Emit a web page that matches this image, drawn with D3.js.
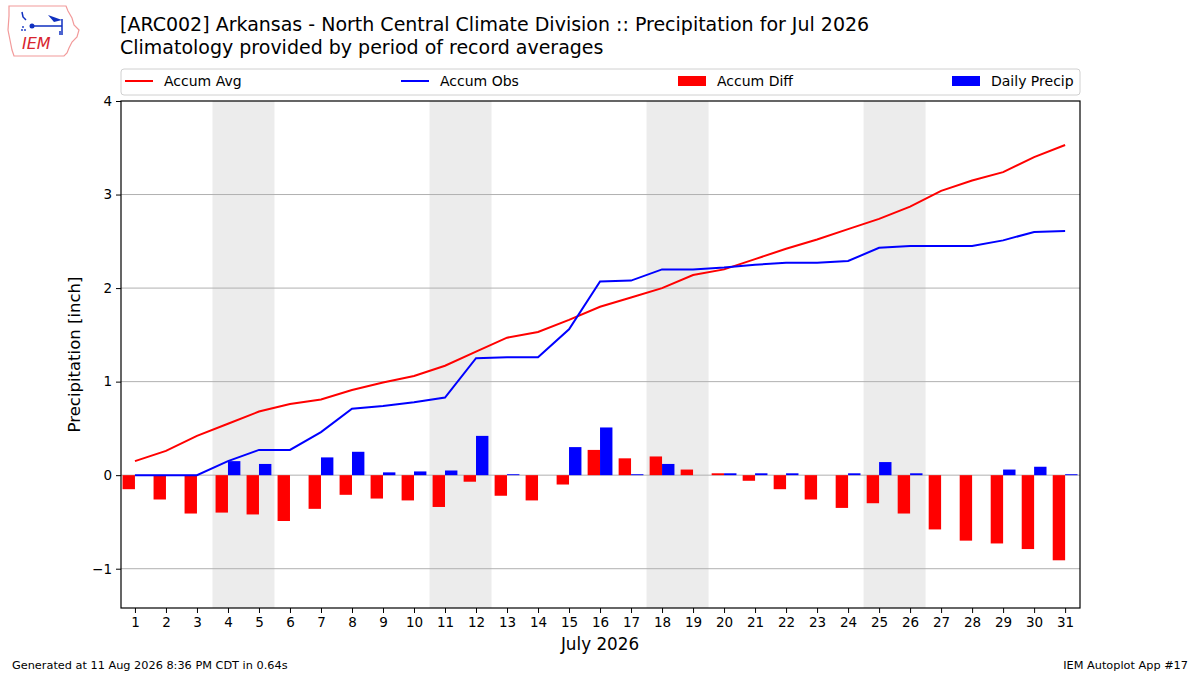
<!DOCTYPE html>
<html>
<head>
<meta charset="utf-8">
<script src="https://cdn.jsdelivr.net/npm/d3@7"></script>
<style>
  body { margin: 0; background: #fff; }
  text { font-family: "DejaVu Sans", sans-serif; fill: #000; }
</style>
</head>
<body>
<svg width="1200" height="675"></svg>
<script>
// days of July 2026
const days = d3.range(1, 32);
// accumulated climatology (period of record averages)
const accumAvg = [0.15, 0.26, 0.42, 0.55, 0.68, 0.76, 0.81, 0.91, 0.99, 1.06,
  1.17, 1.32, 1.47, 1.53, 1.66, 1.80, 1.90, 2.00, 2.14, 2.20,
  2.31, 2.42, 2.52, 2.63, 2.74, 2.87, 3.04, 3.15, 3.24, 3.40, 3.53];
// accumulated observed
const accumObs = [0, 0, 0, 0.15, 0.27, 0.27, 0.46, 0.71, 0.74, 0.78,
  0.83, 1.25, 1.26, 1.26, 1.56, 2.07, 2.08, 2.20, 2.20, 2.22,
  2.25, 2.27, 2.27, 2.29, 2.43, 2.45, 2.45, 2.45, 2.51, 2.60, 2.61];
// daily precip
const dailyPrecip = [0, 0, 0, 0.15, 0.12, 0, 0.19, 0.25, 0.03, 0.04,
  0.05, 0.42, 0.01, 0, 0.30, 0.51, 0.01, 0.12, 0, 0.02,
  0.02, 0.02, 0, 0.02, 0.14, 0.02, 0, 0, 0.06, 0.09, 0.01];
// accum obs minus accum avg
const accumDiff = [-0.15, -0.26, -0.41, -0.40, -0.42, -0.49, -0.36, -0.21, -0.25, -0.27,
  -0.34, -0.07, -0.22, -0.27, -0.10, 0.27, 0.18, 0.20, 0.06, 0.02,
  -0.06, -0.15, -0.26, -0.35, -0.30, -0.41, -0.58, -0.70, -0.73, -0.79, -0.91];
// weekends shaded
const weekends = [[4, 5], [11, 12], [18, 19], [25, 26]];
const yTicks = [-1, 0, 1, 2, 3, 4];

const svg = d3.select("svg");
const L = 121, R = 1080, T = 101, B = 608;

const x = d3.scaleLinear().domain([0.55, 31.48]).range([L, R]);
const y = d3.scaleLinear().domain([-1.42, 4.0]).range([B, T]);

// 标题
svg.append("text").attr("x", 120).attr("y", 31).attr("font-size", 19)
  .text("[ARC002] Arkansas - North Central Climate Division :: Precipitation for Jul 2026");
svg.append("text").attr("x", 120).attr("y", 54).attr("font-size", 19)
  .text("Climatology provided by period of record averages");

// logo
const logo = svg.append("g");
logo.append("path")
  .attr("d", "M9,6 L66,6 L68,11 L72,18 L74,25 L79,30 L77,37 L72,42 L69,48 L67,53 L64,56 L14,56 L12,50 L10,40 L8,30 L9,16 Z")
  .attr("fill", "none").attr("stroke", "#f29a9a").attr("stroke-width", 1.2);
logo.append("text").attr("x", 22).attr("y", 49).attr("font-family", "Liberation Serif, serif")
  .attr("font-style", "italic").attr("font-size", 16).style("fill", "#d8242e").text("IEM");
logo.append("path").attr("d", "M22,12 L23,17 L26,20 M32,26 L62,26 M62,19 L62,35 M60,31 L60,35")
  .attr("fill", "none").attr("stroke", "#1030c0").attr("stroke-width", 1.5);
logo.append("circle").attr("cx", 32).attr("cy", 26).attr("r", 2.5).attr("fill", "#1030c0");
logo.append("path").attr("d", "M48,15 L62,20 L54,22 Z").attr("fill", "#1030c0");
logo.append("g").selectAll("circle").data([[23, 27], [22, 30], [25, 30]]).join("circle")
  .attr("cx", d => d[0]).attr("cy", d => d[1]).attr("r", 0.9).attr("fill", "#1030c0");

// 周末阴影
svg.append("g").selectAll("rect").data(weekends).join("rect")
  .attr("x", d => x(d[0] - 0.5)).attr("width", d => x(d[1] + 0.5) - x(d[0] - 0.5))
  .attr("y", T).attr("height", B - T).attr("fill", "#ececec");

// grid
svg.append("g").selectAll("line").data(yTicks.slice(0, -1)).join("line")
  .attr("x1", L).attr("x2", R).attr("y1", d => y(d)).attr("y2", d => y(d))
  .attr("stroke", "#b0b0b0").attr("stroke-width", 1);

// bars
const bw = 0.4;
svg.append("g").selectAll("rect").data(days).join("rect")
  .attr("x", d => x(d - bw)).attr("width", x(bw) - x(0))
  .attr("y", (d, i) => y(Math.max(0, accumDiff[i])))
  .attr("height", (d, i) => Math.abs(y(accumDiff[i]) - y(0)))
  .attr("fill", "#ff0000");
svg.append("g").selectAll("rect").data(days).join("rect")
  .attr("x", d => x(d)).attr("width", x(bw) - x(0))
  .attr("y", (d, i) => y(dailyPrecip[i]))
  .attr("height", (d, i) => y(0) - y(dailyPrecip[i]))
  .attr("fill", "#0000ff");

// lines
const line = d3.line().x((d, i) => x(days[i])).y(d => y(d));
svg.append("path").datum(accumAvg).attr("d", line)
  .attr("fill", "none").attr("stroke", "#ff0000").attr("stroke-width", 2);
svg.append("path").datum(accumObs).attr("d", line)
  .attr("fill", "none").attr("stroke", "#0000ff").attr("stroke-width", 2);

// axes
const fmt = d => d < 0 ? "\u2212" + Math.abs(d) : String(d);
const yAxis = svg.append("g").attr("transform", `translate(${L},0)`)
  .call(d3.axisLeft(y).tickValues(yTicks).tickFormat(fmt).tickSize(5).tickPadding(4));
const xAxis = svg.append("g").attr("transform", `translate(0,${B})`)
  .call(d3.axisBottom(x).tickValues(days).tickFormat(d3.format("d")).tickSize(5).tickPadding(4));
[xAxis, yAxis].forEach(a => {
  a.select(".domain").remove();
  a.selectAll("text").attr("font-size", 13.5).attr("font-family", "DejaVu Sans");
  a.selectAll("line").attr("stroke", "#000");
});
svg.append("rect").attr("x", L).attr("y", T).attr("width", R - L).attr("height", B - T)
  .attr("fill", "none").attr("stroke", "#000").attr("stroke-width", 1.2);

svg.append("text").attr("x", x(16)).attr("y", 650).attr("text-anchor", "middle")
  .attr("font-size", 16.8).text("July 2026");
svg.append("text").attr("transform", `translate(80,${(T + B) / 2}) rotate(-90)`)
  .attr("text-anchor", "middle").attr("font-size", 16.5).text("Precipitation [inch]");

// legend
const leg = svg.append("g");
leg.append("rect").attr("x", L).attr("y", 69).attr("width", R - L).attr("height", 26)
  .attr("rx", 3).attr("fill", "#fff").attr("stroke", "#d0d0d0");
const legItems = [
  { name: "Accum Avg", color: "#ff0000", type: "line", x0: 125 },
  { name: "Accum Obs", color: "#0000ff", type: "line", x0: 401 },
  { name: "Accum Diff", color: "#ff0000", type: "patch", x0: 678 },
  { name: "Daily Precip", color: "#0000ff", type: "patch", x0: 952 }
];
legItems.forEach(it => {
  if (it.type == "line") {
    leg.append("line").attr("x1", it.x0).attr("x2", it.x0 + 28).attr("y1", 81).attr("y2", 81)
      .attr("stroke", it.color).attr("stroke-width", 2);
  } else {
    leg.append("rect").attr("x", it.x0).attr("y", 76).attr("width", 28).attr("height", 10).attr("fill", it.color);
  }
  leg.append("text").attr("x", it.x0 + 39).attr("y", 86).attr("font-size", 14).text(it.name);
});

// footer
svg.append("text").attr("x", 12).attr("y", 669).attr("font-size", 11.3)
  .text("Generated at 11 Aug 2026 8:36 PM CDT in 0.64s");
svg.append("text").attr("x", 1188).attr("y", 669).attr("font-size", 11.3).attr("text-anchor", "end")
  .text("IEM Autoplot App #17");
</script>
</body>
</html>
